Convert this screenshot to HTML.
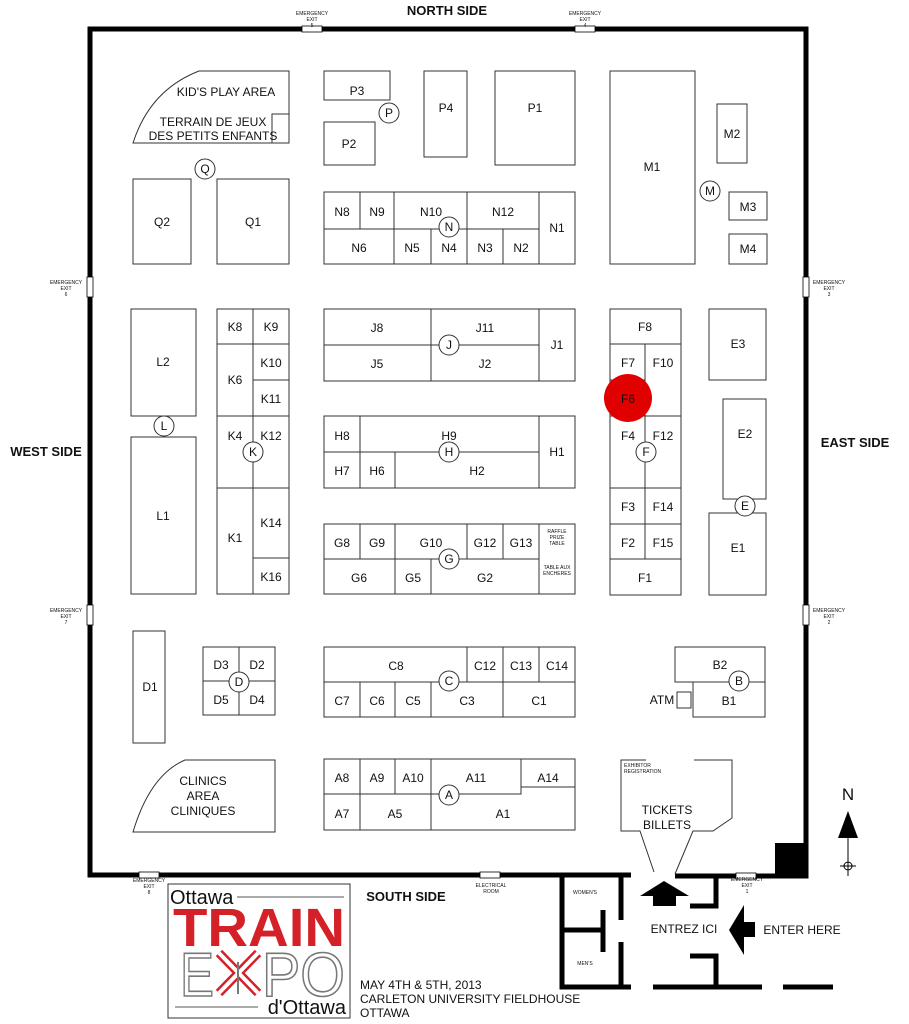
<!DOCTYPE html>
<html><head><meta charset="utf-8"><style>
html,body{margin:0;padding:0;background:#fff;}
svg{display:block;}
text{font-family:"Liberation Sans",sans-serif;fill:#111;}
</style></head><body>
<svg width="909" height="1024" viewBox="0 0 909 1024" xmlns="http://www.w3.org/2000/svg">
<g fill="none" stroke="#000" stroke-width="5">
<path d="M631 875 L90 875 L90 29 L806 29 L806 876 L675 876"/>
<path d="M562 875 L562 987 L631 987"/>
<path d="M621 875 L621 920 M621 942 L621 987"/>
<path d="M562 930 L603 930 M603 910 L603 952"/>
<path d="M653 987 L762 987 M783 987 L833 987"/>
<path d="M690 906 L716 906 L716 875"/>
<path d="M690 956 L716 956 L716 987"/>
</g>
<rect x="775" y="843" width="31" height="33" fill="#000"/>
<g fill="#fff" stroke="#000" stroke-width="0.8">
<rect x="302" y="26" width="20" height="6"/><rect x="575" y="26" width="20" height="6"/>
<rect x="87" y="277" width="6" height="20"/><rect x="87" y="605" width="6" height="20"/>
<rect x="803" y="277" width="6" height="20"/><rect x="803" y="605" width="6" height="20"/>
<rect x="139" y="872" width="20" height="6"/><rect x="480" y="872" width="20" height="6"/><rect x="736" y="873" width="20" height="6"/>
</g>
<g font-size="5" text-anchor="middle">
<text x="312" y="15">EMERGENCY</text><text x="312" y="21">EXIT</text><text x="312" y="27">5</text>
<text x="585" y="15">EMERGENCY</text><text x="585" y="21">EXIT</text><text x="585" y="27">4</text>
<text x="66" y="284">EMERGENCY</text><text x="66" y="290">EXIT</text><text x="66" y="296">6</text>
<text x="66" y="612">EMERGENCY</text><text x="66" y="618">EXIT</text><text x="66" y="624">7</text>
<text x="829" y="284">EMERGENCY</text><text x="829" y="290">EXIT</text><text x="829" y="296">3</text>
<text x="829" y="612">EMERGENCY</text><text x="829" y="618">EXIT</text><text x="829" y="624">2</text>
<text x="149" y="882">EMERGENCY</text><text x="149" y="888">EXIT</text><text x="149" y="894">8</text>
<text x="491" y="887">ELECTRICAL</text><text x="491" y="893">ROOM</text>
<text x="747" y="881">EMERGENCY</text><text x="747" y="887">EXIT</text><text x="747" y="893">1</text>
<text x="585" y="894">WOMEN'S</text><text x="585" y="965">MEN'S</text>
</g>
<g font-weight="bold" font-size="13" text-anchor="middle">
<text x="447" y="15">NORTH SIDE</text><text x="46" y="456">WEST SIDE</text>
<text x="855" y="447">EAST SIDE</text><text x="406" y="901">SOUTH SIDE</text>
</g>
<g fill="#fff" stroke="#333" stroke-width="1">
<path d="M289 71 L199 71 Q150 90 133 143 L289 143 Z"/><rect x="272" y="114" width="17" height="29"/>
<rect x="324" y="71" width="66" height="29"/><rect x="324" y="122" width="51" height="43"/>
<rect x="424" y="71" width="43" height="86"/><rect x="495" y="71" width="80" height="94"/>
<rect x="610" y="71" width="85" height="193"/><rect x="717" y="104" width="30" height="59"/>
<rect x="729" y="192" width="38" height="28"/><rect x="729" y="234" width="38" height="30"/>
<rect x="133" y="179" width="58" height="85"/><rect x="217" y="179" width="72" height="85"/>
<rect x="324" y="192" width="251" height="72"/>
<path d="M324 229 L539 229 M360 192 V229 M394 192 V264 M467 192 V264 M539 192 V264 M431 229 V264 M503 229 V264"/>
<rect x="131" y="309" width="65" height="107"/><rect x="131" y="437" width="65" height="157"/>
<rect x="217" y="309" width="72" height="285"/>
<path d="M253 309 V594 M217 344 H289 M253 380 H289 M217 416 H289 M217 488 H289 M253 558 H289"/>
<rect x="324" y="309" width="251" height="72"/><path d="M324 345 H539 M431 309 V381 M539 309 V381"/>
<rect x="324" y="416" width="251" height="72"/><path d="M324 452 H539 M360 416 V488 M395 452 V488 M539 416 V488"/>
<rect x="324" y="524" width="251" height="70"/><path d="M324 559 H539 M360 524 V559 M395 524 V594 M467 524 V559 M503 524 V559 M539 524 V594 M431 559 V594"/>
<rect x="610" y="309" width="71" height="286"/>
<path d="M610 344 H681 M645 344 V559 M610 380 H645 M610 416 H681 M610 488 H681 M610 524 H681 M610 559 H681"/>
<rect x="709" y="309" width="57" height="71"/><rect x="723" y="399" width="43" height="100"/><rect x="709" y="513" width="57" height="82"/>
<rect x="133" y="631" width="32" height="112"/>
<rect x="203" y="647" width="72" height="68"/><path d="M203 681 H275 M239 647 V715"/>
<rect x="324" y="647" width="251" height="70"/><path d="M324 682 H575 M467 647 V682 M503 647 V717 M539 647 V682 M360 682 V717 M395 682 V717 M431 682 V717"/>
<rect x="675" y="647" width="90" height="35"/><rect x="693" y="682" width="72" height="35"/><rect x="677" y="692" width="14" height="16"/>
<path d="M275 760 L275 832 L133 832 Q150 775 185 760 Z"/>
<rect x="324" y="759" width="251" height="71"/>
<path d="M324 794 H521 V787 H575 M521 759 V787 M360 759 V830 M395 759 V794 M431 759 V830"/>
<path d="M646 760 L621 760 L621 831 L640 831 L654 872 M694 760 L732 760 L732 818 L713 831 L693 831 L675 874"/>
</g>
<circle cx="628" cy="398" r="24" fill="#e00000"/>
<g fill="#fff" stroke="#333" stroke-width="1">
<circle cx="389" cy="113" r="10"/><circle cx="710" cy="191" r="10"/><circle cx="205" cy="169" r="10"/>
<circle cx="449" cy="227" r="10"/><circle cx="164" cy="426" r="10"/><circle cx="253" cy="452" r="10"/>
<circle cx="449" cy="345" r="10"/><circle cx="449" cy="452" r="10"/><circle cx="449" cy="559" r="10"/>
<circle cx="646" cy="452" r="10"/><circle cx="745" cy="506" r="10"/><circle cx="239" cy="682" r="10"/>
<circle cx="449" cy="681" r="10"/><circle cx="739" cy="681" r="10"/><circle cx="449" cy="795" r="10"/>
</g>
<g font-size="12" text-anchor="middle">
<text x="226" y="96">KID'S PLAY AREA</text><text x="213" y="126">TERRAIN DE JEUX</text><text x="213" y="140">DES PETITS ENFANTS</text>
<text x="357" y="95">P3</text><text x="389" y="117">P</text><text x="349" y="148">P2</text><text x="446" y="112">P4</text><text x="535" y="112">P1</text>
<text x="652" y="171">M1</text><text x="710" y="195">M</text><text x="732" y="138">M2</text><text x="748" y="211">M3</text><text x="748" y="253">M4</text>
<text x="205" y="173">Q</text><text x="162" y="226">Q2</text><text x="253" y="226">Q1</text>
<text x="342" y="216">N8</text><text x="377" y="216">N9</text><text x="431" y="216">N10</text><text x="503" y="216">N12</text><text x="557" y="232">N1</text>
<text x="359" y="252">N6</text><text x="412" y="252">N5</text><text x="449" y="252">N4</text><text x="485" y="252">N3</text><text x="521" y="252">N2</text><text x="449" y="231">N</text>
<text x="163" y="366">L2</text><text x="164" y="430">L</text><text x="163" y="520">L1</text>
<text x="235" y="331">K8</text><text x="271" y="331">K9</text><text x="235" y="384">K6</text><text x="271" y="367">K10</text><text x="271" y="403">K11</text>
<text x="235" y="440">K4</text><text x="271" y="440">K12</text><text x="253" y="456">K</text><text x="235" y="542">K1</text><text x="271" y="527">K14</text><text x="271" y="581">K16</text>
<text x="377" y="332">J8</text><text x="485" y="332">J11</text><text x="377" y="368">J5</text><text x="485" y="368">J2</text><text x="557" y="349">J1</text><text x="449" y="349">J</text>
<text x="342" y="440">H8</text><text x="449" y="440">H9</text><text x="557" y="456">H1</text><text x="342" y="475">H7</text><text x="377" y="475">H6</text><text x="477" y="475">H2</text><text x="449" y="456">H</text>
<text x="342" y="547">G8</text><text x="377" y="547">G9</text><text x="431" y="547">G10</text><text x="485" y="547">G12</text><text x="521" y="547">G13</text>
<text x="359" y="582">G6</text><text x="413" y="582">G5</text><text x="485" y="582">G2</text><text x="449" y="563">G</text>
<text x="645" y="331">F8</text><text x="628" y="367">F7</text><text x="663" y="367">F10</text><text x="628" y="403">F6</text>
<text x="628" y="440">F4</text><text x="663" y="440">F12</text><text x="646" y="456">F</text>
<text x="628" y="511">F3</text><text x="663" y="511">F14</text><text x="628" y="547">F2</text><text x="663" y="547">F15</text><text x="645" y="582">F1</text>
<text x="738" y="348">E3</text><text x="745" y="438">E2</text><text x="745" y="510">E</text><text x="738" y="552">E1</text>
<text x="150" y="691">D1</text><text x="221" y="669">D3</text><text x="257" y="669">D2</text><text x="221" y="704">D5</text><text x="257" y="704">D4</text><text x="239" y="686">D</text>
<text x="396" y="670">C8</text><text x="485" y="670">C12</text><text x="521" y="670">C13</text><text x="557" y="670">C14</text><text x="449" y="685">C</text>
<text x="342" y="705">C7</text><text x="377" y="705">C6</text><text x="413" y="705">C5</text><text x="467" y="705">C3</text><text x="539" y="705">C1</text>
<text x="720" y="669">B2</text><text x="729" y="705">B1</text><text x="739" y="685">B</text><text x="662" y="704">ATM</text>
<text x="203" y="785">CLINICS</text><text x="203" y="800">AREA</text><text x="203" y="815">CLINIQUES</text>
<text x="342" y="782">A8</text><text x="377" y="782">A9</text><text x="413" y="782">A10</text><text x="476" y="782">A11</text><text x="548" y="782">A14</text>
<text x="342" y="818">A7</text><text x="395" y="818">A5</text><text x="503" y="818">A1</text><text x="449" y="799">A</text>
<text x="667" y="814">TICKETS</text><text x="667" y="829">BILLETS</text>
<text x="684" y="933">ENTREZ ICI</text><text x="802" y="934">ENTER HERE</text>
<text x="848" y="800" font-size="17">N</text>
</g>
<g font-size="5"><text x="624" y="767">EXHIBITOR</text><text x="624" y="773">REGISTRATION</text></g>
<g font-size="5" text-anchor="middle"><text x="557" y="533">RAFFLE</text><text x="557" y="539">PRIZE</text><text x="557" y="545">TABLE</text><text x="557" y="569">TABLE AUX</text><text x="557" y="575">ENCHERES</text></g>
<path d="M640 896 L664 881 L689 896 L676 896 L676 906 L653 906 L653 896 Z" fill="#000"/>
<path d="M729 930 L744 905 L744 922 L755 922 L755 937 L744 937 L744 955 Z" fill="#000"/>
<path d="M848 811 L838 838 L858 838 Z" fill="#000"/><path d="M848 838 V876 M840 866 H856" stroke="#000"/><circle cx="848" cy="866" r="4" fill="none" stroke="#000"/>
<rect x="168" y="884" width="182" height="134" fill="#fff" stroke="#333"/>
<text x="170" y="904" font-size="20" fill="#222">Ottawa</text><path d="M237 897 H344" stroke="#555"/>
<text x="259" y="946" font-size="54" font-weight="bold" text-anchor="middle" style="fill:#d42027" textLength="172" lengthAdjust="spacingAndGlyphs">TRAIN</text>
<g transform="translate(0,996) scale(1,1.35)">
<text x="180" y="0" font-size="46" style="fill:#fff;stroke:#777;stroke-width:1.2" textLength="34" lengthAdjust="spacingAndGlyphs">E</text>
<text x="262" y="0" font-size="46" style="fill:#fff;stroke:#777;stroke-width:1.2" textLength="83" lengthAdjust="spacingAndGlyphs">PO</text>
</g>
<path d="M219 953 L258 993 M258 953 L219 993" stroke="#d42027" stroke-width="9"/><path d="M219 953 L258 993 M258 953 L219 993" stroke="#fff" stroke-width="4"/>
<path d="M238 962 V994" stroke="#777" stroke-width="2"/>
<path d="M175 1007 H258" stroke="#555"/><text x="346" y="1014" font-size="20" text-anchor="end" fill="#222">d'Ottawa</text>
<g font-size="12"><text x="360" y="989">MAY 4TH &amp; 5TH, 2013</text><text x="360" y="1003">CARLETON UNIVERSITY FIELDHOUSE</text><text x="360" y="1017">OTTAWA</text></g>
</svg>
</body></html>
